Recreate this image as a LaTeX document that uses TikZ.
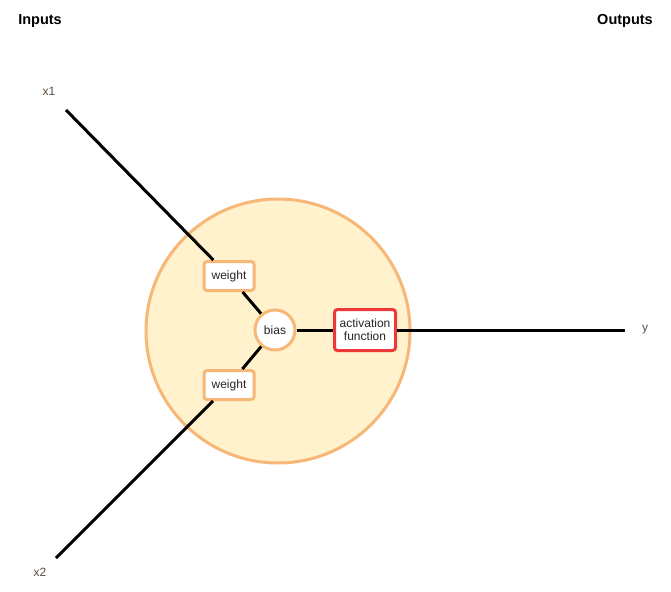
\documentclass[tikz,border=0pt]{standalone}
\usepackage{fontspec}
\setmainfont{Liberation Sans}
\usepackage{tikz}
\usetikzlibrary{calc}
\tikzset{>=latex}
\definecolor{mylightorange}{RGB}{255, 242, 204}
\definecolor{myorange}{RGB}{247, 183, 118}
\definecolor{myred}{RGB}{236, 56, 56}
\definecolor{mylabel}{RGB}{90, 75, 60}
\tikzset{
  wbox/.style = {draw = myorange, fill = white, line width = 3pt, rounded corners = 3pt,
                 minimum width = 50pt, minimum height = 29pt, inner sep = 1pt, text = black!85,
                 font = \fontsize{12}{13}\selectfont},
  actbox/.style = {draw = myred, fill = white, line width = 3pt, rounded corners = 3pt,
                 minimum width = 61pt, minimum height = 41pt, inner sep = 1pt, align = center,
                 text = black!85, font = \fontsize{12}{13}\selectfont},
  wire/.style = {line width = 3pt, black},
  lbl/.style = {text = mylabel, font = \fontsize{12}{14}\selectfont},
  head/.style = {font = \bfseries\fontsize{14.5}{16}\selectfont}
}

\begin{document}
\begin{tikzpicture}[x = 1pt, y = -1pt]
\useasboundingbox (0,0) rectangle (671,591);
\draw[draw = myorange, fill = mylightorange, line width = 3pt] (278, 331) circle [radius = 132];
% headings and labels
\node[head] (inputs) at (40, 21) {Inputs};
\node[head] (outputs) at (625, 21) {Outputs};
\node[lbl] (x1) at (49, 91) {x1};
\node[lbl] (x2) at (40, 572) {x2};
\node[lbl] (y) at (645, 330) {y};
% neuron parts
\node[wbox] (w1) at (229, 276) {weight};
\node[wbox] (w2) at (229, 385) {weight};
\node[circle, draw = myorange, fill = white, line width = 3pt, minimum size = 40pt, inner sep = 0pt,
      text = black!85, font = \fontsize{12}{13}\selectfont] (bias) at (275, 330) {bias};
\node[actbox] (act) at (365, 330) {activation\\function};
% wires
\coordinate (x1end) at (66, 110);
\coordinate (x2end) at (56, 558);
\coordinate (yend) at (625, 330);
\draw[wire] (x1end) -- (w1);
\draw[wire] (w1) -- (bias);
\draw[wire] (x2end) -- (w2);
\draw[wire] (w2) -- (bias);
\draw[wire] (bias) -- (act);
\draw[wire] (act) -- (yend);
\end{tikzpicture}
\end{document}
